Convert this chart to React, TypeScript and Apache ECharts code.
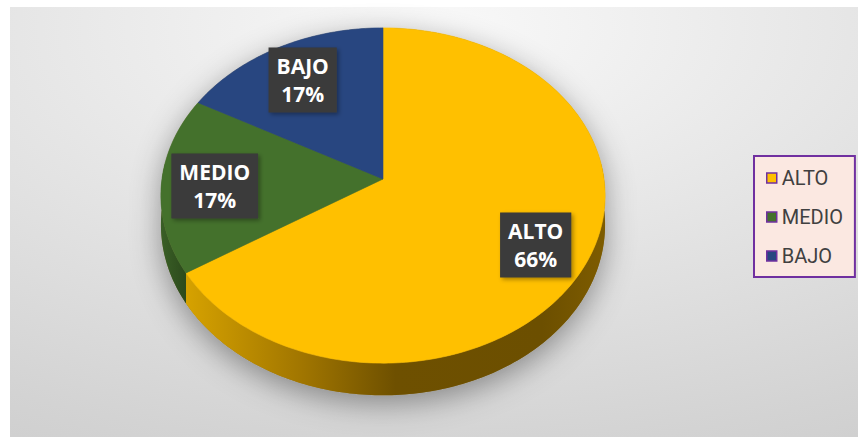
import React, { useEffect, useRef } from 'react';
import * as echarts from 'echarts';

const categories = ['ALTO', 'MEDIO', 'BAJO'];
const values = [66, 17, 17];

const topColors = ['#FFC000', '#44712C', '#284680'];
const sideStops = [
  [
    { offset: 0, color: '#D6A200' },
    { offset: 0.28, color: '#A07500' },
    { offset: 0.5, color: '#6E5000' },
    { offset: 0.85, color: '#6C4F00' },
    { offset: 1, color: '#7E5C00' },
  ],
  [
    { offset: 0, color: '#3A5F26' },
    { offset: 1, color: '#2C4A1C' },
  ],
  [
    { offset: 0, color: '#1E3763' },
    { offset: 1, color: '#172B4F' },
  ],
];

const CX = 383;
const CY = 179;
const RX = 221;
const RY = 166;
const U = 0.0985;
const H = 29;

function proj(a: number, r = 1, dz = 0): number[] {
  const s = 1 / (1 + U * r * Math.sin(a));
  return [CX + RX * r * Math.cos(a) * s, CY - RY * r * Math.sin(a) * s + dz * s];
}

function arcPoints(from: number, to: number, dz: number): number[][] {
  const n = Math.max(6, Math.ceil(Math.abs(from - to) / (Math.PI / 180)));
  const pts: number[][] = [];
  for (let k = 0; k <= n; k++) {
    const a = from + ((to - from) * k) / n;
    pts.push(proj(a, 1, dz));
  }
  return pts;
}

const renderItem = (params: any, api: any) => {
  const i = params.seriesIndex;
  const total = values.reduce((a, b) => a + b, 0);
  const before = values.slice(0, i).reduce((a, b) => a + b, 0);
  const v = api.value(0);
  const a0 = Math.PI / 2 - (before / total) * 2 * Math.PI;
  const a1 = a0 - (v / total) * 2 * Math.PI;
  const children: any[] = [];

  if (i === 0) {
    const sil = [...arcPoints(0, Math.PI, 0), ...arcPoints(Math.PI, 2 * Math.PI, H)];
    children.push({
      type: 'polygon',
      shape: { points: sil },
      style: {
        fill: '#8a7a50',
        shadowBlur: 30,
        shadowColor: 'rgba(0,0,0,0.38)',
        shadowOffsetY: 8,
      },
      z2: 0,
      silent: true,
    });
  }

  // top face
  const top = [[CX, CY], ...arcPoints(a0, a1, 0)];
  children.push({
    type: 'polygon',
    shape: { points: top },
    style: { fill: topColors[i], stroke: topColors[i], lineWidth: 0.6 },
    z2: 10,
  });

  // side wall (front-facing part)
  const ext = 0.1;
  for (let k = -2; k <= 1; k++) {
    const lo = k * 2 * Math.PI - Math.PI - ext;
    const hi = k * 2 * Math.PI + ext;
    const s0 = Math.max(a1, lo);
    const s1 = Math.min(a0, hi);
    if (s1 > s0) {
      const pts = [...arcPoints(s1, s0, 0), ...arcPoints(s0, s1, H)];
      children.push({
        type: 'polygon',
        shape: { points: pts },
        style: { fill: new echarts.graphic.LinearGradient(0, 0, 1, 0, sideStops[i]) },
        z2: 5,
      });
    }
  }

  // label
  const mid = (a0 + a1) / 2;
  const [lx, ly] = proj(mid, 0.76);
  children.push({
    type: 'text',
    x: lx,
    y: ly + 3,
    z2: 20,
    style: {
      text: `${categories[i]}\n${Math.round((v / total) * 100)}%`,
      fill: '#ffffff',
      fontSize: 21,
      fontWeight: 'bold',
      fontFamily: '"Open Sans", sans-serif',
      lineHeight: 28,
      align: 'center',
      verticalAlign: 'middle',
      backgroundColor: '#3b3b3b',
      padding: [5, 8, 4, 8],
      shadowColor: 'rgba(0,0,0,0.35)',
      shadowBlur: 4,
      shadowOffsetX: 2,
      shadowOffsetY: 2,
    },
  });

  return { type: 'group', children };
};

export default function App() {
  const ref = useRef<HTMLDivElement>(null);
  useEffect(() => {
    document.body.style.margin = '0';
    if (!ref.current) return;
    const chart = echarts.init(ref.current, undefined, { renderer: 'svg' });
    chart.setOption({
      animation: false,
      backgroundColor: '#ffffff',
      graphic: [
        {
          type: 'rect',
          z: -10,
          silent: true,
          shape: { x: 10, y: 7, width: 848, height: 430 },
          style: {
            fill: new echarts.graphic.RadialGradient(0.5, 0.05, 1.4, [
              { offset: 0, color: '#f9f9f9' },
              { offset: 0.7, color: '#d3d3d3' },
              { offset: 1, color: '#c5c5c5' },
            ]),
          },
        },
      ],
      legend: {
        orient: 'vertical',
        left: 754,
        top: 156,
        itemWidth: 10,
        itemHeight: 10,
        itemGap: 19,
        padding: [12, 12, 11, 12],
        borderColor: '#7030A0',
        borderWidth: 2,
        backgroundColor: '#FBE8E1',
        icon: 'rect',
        selectedMode: false,
        itemStyle: { borderColor: '#7030A0', borderWidth: 1.5 },
        textStyle: { color: '#404040', fontSize: 20, fontFamily: 'Roboto, sans-serif' },
        data: categories,
      },
      series: categories.map((name, i) => ({
        type: 'custom',
        name,
        coordinateSystem: 'none',
        itemStyle: { color: topColors[i] },
        data: [{ value: values[i], name }],
        renderItem,
      })),
    });
    return () => chart.dispose();
  }, []);
  return <div ref={ref} style={{ width: 858, height: 437 }} />;
}
